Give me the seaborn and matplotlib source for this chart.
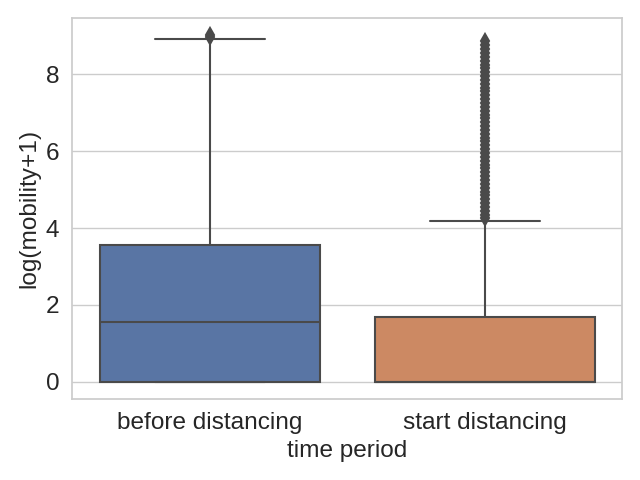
import numpy as np
import pandas as pd
import matplotlib
matplotlib.use("Agg")
import matplotlib.pyplot as plt
import seaborn as sns

periods = ["before distancing", "start distancing"]

before_values = [0.0, 0.3, 0.7, 1.0, 1.3, 1.55, 2.0, 2.5, 3.0, 3.3, 3.57,
                 5.0, 7.0, 8.92, 8.97, 9.01]
before_counts = [6, 1, 1, 1, 1, 1, 1, 1, 1, 1, 1, 1, 1, 1, 1, 1]

start_values = [0.0, 0.5, 1.0, 1.68, 2.5, 3.3, 4.19]
start_counts = [101, 25, 24, 1, 1, 1, 1]
# the dense run of outliers above the whisker
start_outliers = [4.25, 4.35, 4.45, 4.55, 4.65, 4.75, 4.85, 4.95, 5.05, 5.15,
                  5.25, 5.35, 5.45, 5.55, 5.65, 5.75, 5.85, 5.95, 6.05, 6.15,
                  6.25, 6.35, 6.45, 6.55, 6.65, 6.75, 6.85, 6.95, 7.05, 7.15,
                  7.25, 7.35, 7.45, 7.55, 7.65, 7.75, 7.85, 7.95, 8.05, 8.15,
                  8.25, 8.35, 8.45, 8.55, 8.65, 8.75, 8.85]

before = np.repeat(before_values, before_counts)
start = np.concatenate([np.repeat(start_values, start_counts), start_outliers])

df = pd.DataFrame({
    "time period": [periods[0]] * len(before) + [periods[1]] * len(start),
    "log(mobility+1)": np.concatenate([before, start]),
})

sns.set_theme(style="whitegrid", rc={"axes.labelsize": 17.6,
                                     "xtick.labelsize": 17.6,
                                     "ytick.labelsize": 17.6})
plt.rcParams["font.family"] = ["Liberation Sans", "DejaVu Sans"]

fig, ax = plt.subplots(figsize=(6.4, 4.8), dpi=100)
sns.boxplot(
    data=df, x="time period", y="log(mobility+1)", hue="time period",
    order=periods, palette="deep", saturation=0.75, linecolor="#4a4a4a",
    linewidth=1.5,
    flierprops=dict(marker="d", markersize=7, markerfacecolor="#4a4a4a",
                    markeredgecolor="#4a4a4a", markeredgewidth=1.5),
    ax=ax,
)
plt.tight_layout()
plt.savefig("out.png")
